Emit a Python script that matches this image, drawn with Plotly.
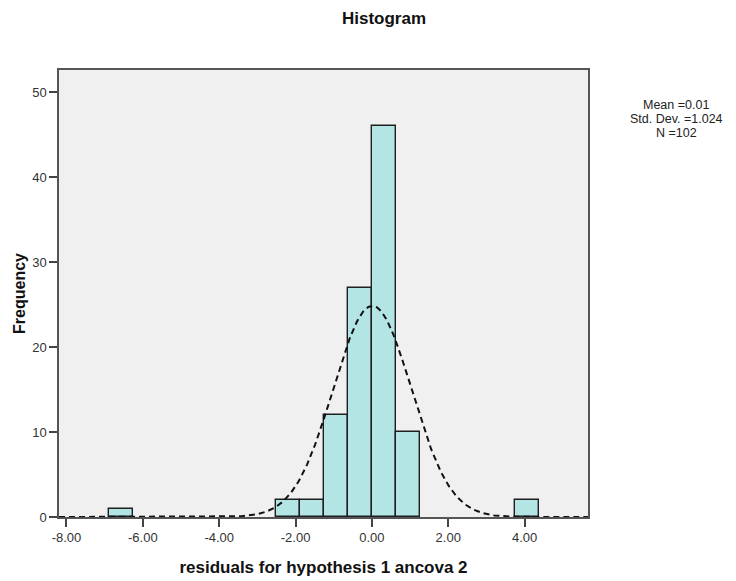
import numpy as np
import plotly.graph_objects as go

# Histogram bins (edges are multiples of the bin width) and their counts
bin_width = 0.625
bin_left_edges = [-6.875, -2.5, -1.875, -1.25, -0.625, 0.0, 0.625, 3.75]
bin_counts = [1, 2, 2, 12, 27, 46, 10, 2]

# Summary statistics shown beside the plot
mean_val = 0.01
std_dev = 1.024
n_obs = 102

x_tick_vals = [-8, -6, -4, -2, 0, 2, 4]
y_tick_vals = [0, 10, 20, 30, 40, 50]

x_range = [-8.196, 5.66]
y_range = [0, 52.6]

bin_centers = [e + bin_width / 2 for e in bin_left_edges]

# Normal curve scaled to the histogram counts
xs = np.linspace(x_range[0], x_range[1], 600)
pdf = np.exp(-0.5 * ((xs - mean_val) / std_dev) ** 2) / (std_dev * np.sqrt(2 * np.pi))
curve = n_obs * bin_width * pdf

fig = go.Figure()
fig.add_trace(go.Bar(
    x=bin_centers, y=bin_counts, width=bin_width,
    marker=dict(color="#b3e5e5", line=dict(color="#1e1e1e", width=1.4)),
    showlegend=False, hoverinfo="x+y",
))
fig.add_trace(go.Scatter(
    x=xs, y=curve, mode="lines",
    line=dict(color="#111111", width=2, dash="6px,4px"),
    showlegend=False, hoverinfo="skip",
))

font_family = "Liberation Sans, Arial, sans-serif"

fig.update_layout(
    width=736, height=581,
    margin=dict(l=59, r=148, t=70, b=64),
    paper_bgcolor="white",
    plot_bgcolor="#f0f0f0",
    bargap=0,
    font=dict(family=font_family, size=13, color="#333333"),
    title=dict(text="<b>Histogram</b>", x=384 / 736, xanchor="center",
               y=1 - 18 / 581, yanchor="middle",
               font=dict(size=17, color="#111111", family=font_family)),
)

fig.update_xaxes(
    range=x_range, tickvals=x_tick_vals,
    ticktext=[f"{v:.2f}" for v in x_tick_vals],
    ticks="outside", ticklen=8, tickwidth=1.5, tickcolor="#444444",
    showline=True, mirror=True, linecolor="#555555", linewidth=1.5,
    showgrid=False, zeroline=False, automargin=False,
    tickfont=dict(size=13, color="#333333"),
    title=dict(text="<b>residuals for hypothesis 1 ancova 2</b>",
               font=dict(size=17, color="#111111"), standoff=17),
)
fig.update_yaxes(
    range=y_range, tickvals=y_tick_vals,
    ticks="outside", ticklen=8, tickwidth=1.5, tickcolor="#444444",
    showline=True, mirror=True, linecolor="#555555", linewidth=1.5,
    showgrid=False, zeroline=False, automargin=False,
    tickfont=dict(size=13, color="#333333"),
    title=dict(text="<b>Frequency</b>", font=dict(size=16, color="#111111"),
               standoff=3),
)

# Summary statistics block, one line per annotation, placed relative to the plot area
plot_w = 736 - 59 - 148
plot_h = 581 - 70 - 64
stats_lines = [f"Mean ={mean_val:.2f}", f"Std. Dev. ={std_dev:.3f}", f"N ={n_obs}"]
for i, line in enumerate(stats_lines):
    fig.add_annotation(
        text=line, xref="paper", yref="paper",
        x=(676 - 59) / plot_w, y=(517 - (105 + 14 * i)) / plot_h,
        xanchor="center", yanchor="middle",
        showarrow=False, align="center",
        font=dict(size=12.5, color="#222222", family=font_family),
    )

fig.write_html("out.html")
